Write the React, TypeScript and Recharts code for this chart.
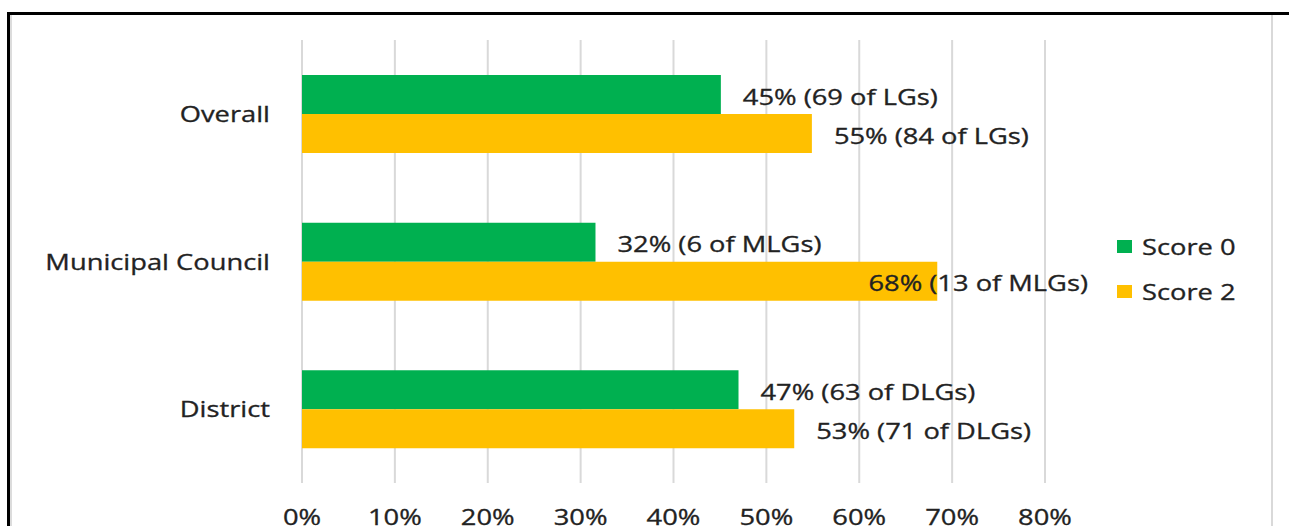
import React from "react";
import { BarChart, Bar, XAxis, YAxis, CartesianGrid, LabelList, Legend } from "recharts";

const categories = ["Overall", "Municipal Council", "District"];
const score0 = [45.1, 31.6, 47.0];
const score2 = [54.9, 68.4, 53.0];
const score0Labels = ["45% (69 of LGs)", "32% (6 of MLGs)", "47% (63 of DLGs)"];
const score2Labels = ["55% (84 of LGs)", "68% (13 of MLGs)", "53% (71 of DLGs)"];
const xTicks = [0, 10, 20, 30, 40, 50, 60, 70, 80];

const GREEN = "#00B050";
const YELLOW = "#FFC000";
const TEXT = "#222";
const FONT = "'Open Sans', sans-serif";
const FS = 21;
const SX = 1.3; // reference text is stretched horizontally

const data = categories.map((c, i) => ({
  name: c,
  s0: score0[i],
  s2: score2[i],
  l0: score0Labels[i],
  l2: score2Labels[i],
}));

function Stretch({ x, y, anchor, children }: { x: number; y: number; anchor: string; children: React.ReactNode }) {
  return (
    <text
      transform={`translate(${x},${y}) scale(${SX},1)`}
      textAnchor={anchor}
      dominantBaseline="central"
      fontFamily={FONT}
      fontSize={FS}
      fill={TEXT}
      stroke={TEXT}
      strokeWidth={0.3}
    >
      {children}
    </text>
  );
}

const LABEL_LIMIT = 1088;

function BarLabel(props: any) {
  const { x, y, width, height, value } = props;
  const end = x + width;
  const est = String(value).length * 14.2;
  const cy = y + height / 2 + 2;
  if (end + 22 + est > LABEL_LIMIT) {
    return <Stretch x={LABEL_LIMIT} y={cy} anchor="end">{value}</Stretch>;
  }
  return <Stretch x={end + 22} y={cy} anchor="start">{value}</Stretch>;
}

function YTick(props: any) {
  const { x, y, payload } = props;
  return <Stretch x={x - 24} y={y} anchor="end">{payload.value}</Stretch>;
}

function XTick(props: any) {
  const { x, y, payload } = props;
  return <Stretch x={x} y={y + 26} anchor="middle">{`${payload.value}%`}</Stretch>;
}

function LegendBox() {
  const items = [
    { label: "Score 0", color: GREEN },
    { label: "Score 2", color: YELLOW },
  ];
  return (
    <svg width={170} height={90} style={{ overflow: "visible" }}>
      {items.map((it, i) => (
        <g key={it.label}>
          <rect x={0} y={i * 45} width={15} height={13} fill={it.color} />
          <Stretch x={25} y={i * 45 + 7} anchor="start">{it.label}</Stretch>
        </g>
      ))}
    </svg>
  );
}

export default function App() {
  return (
    <div style={{ position: "absolute", left: 0, top: 0, width: 1289, height: 526, overflow: "hidden", background: "#fff" }}>
      <div style={{ position: "absolute", left: 7, top: 12, width: 1300, height: 3, background: "#000" }} />
      <div style={{ position: "absolute", left: 7, top: 12, width: 3, height: 520, background: "#000" }} />
      <div style={{ position: "absolute", left: 10, top: 15, width: 2, height: 520, background: "#dcdcdc" }} />
      <div style={{ position: "absolute", left: 1271, top: 15, width: 2, height: 520, background: "#d9d9d9" }} />
      <BarChart
        width={1289}
        height={526}
        data={data}
        layout="vertical"
        margin={{ top: 40, right: 244, bottom: 0, left: 0 }}
        barGap={0}
        barSize={39}
      >
        <CartesianGrid horizontal={false} stroke="#d9d9d9" strokeWidth={2} />
        <XAxis
          type="number"
          domain={[0, 80]}
          ticks={xTicks}
          height={43}
          axisLine={false}
          tickLine={false}
          tick={<XTick />}
        />
        <YAxis
          type="category"
          dataKey="name"
          width={302}
          axisLine={false}
          tickLine={false}
          tick={<YTick />}
        />
        <Legend
          layout="horizontal"
          verticalAlign="middle"
          align="center"
          content={<LegendBox />}
          wrapperStyle={{ position: "absolute", left: 1117, top: 240, width: 170, height: 90 }}
        />
        <Bar dataKey="s0" name="Score 0" fill={GREEN} isAnimationActive={false}>
          <LabelList dataKey="l0" content={<BarLabel />} />
        </Bar>
        <Bar dataKey="s2" name="Score 2" fill={YELLOW} isAnimationActive={false}>
          <LabelList dataKey="l2" content={<BarLabel />} />
        </Bar>
      </BarChart>
    </div>
  );
}
